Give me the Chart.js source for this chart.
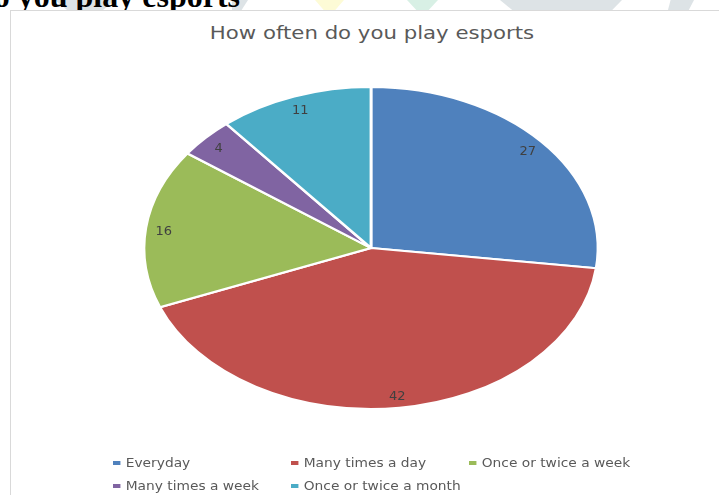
<!DOCTYPE html>
<html>
<head>
<meta charset="utf-8">
<script src="https://cdn.jsdelivr.net/npm/chart.js@4.4.1/dist/chart.umd.min.js"></script>
<style>
  html, body { margin: 0; padding: 0; background: #fff; }
  body { width: 719px; height: 495px; position: relative; overflow: hidden; font-family: "DejaVu Sans", sans-serif; }
  .mark { position: absolute; top: 0; height: 10px; }
  #heading {
    position: absolute; right: 479px; top: -20px; white-space: nowrap;
    font-family: "Liberation Serif", serif; font-weight: bold; font-size: 32px; line-height: 32px; color: #000;
  }
  #box {
    position: absolute; left: 10px; top: 10px; width: 740px; height: 520px;
    background: #fff; border: 1px solid #d9d9d9; box-sizing: border-box;
  }
  #title {
    position: absolute; left: 0; width: 744px; top: 22px; text-align: center;
    font-size: 17px; line-height: 22px; color: #595959;
    transform: scaleX(1.25); transform-origin: 372px 0;
  }
  #chart { position: absolute; left: 0; top: 0; }
  .legend-item {
    position: absolute; font-size: 13px; line-height: 16px; color: #595959; white-space: nowrap;
    transform: scaleX(1.06); transform-origin: 0 0;
  }
  .legend-item i { display: inline-block; width: 7px; height: 4px; margin-right: 5px; vertical-align: middle; position: relative; top: -1px; }
</style>
</head>
<body>
<div class="mark" style="left:55px;width:60px;background:#dde3e6;clip-path:polygon(0 0,100% 0,80% 100%,20% 100%)"></div>
<div class="mark" style="left:232px;width:16px;background:#dde3e6;clip-path:polygon(0 0,100% 0,60% 100%,0 100%)"></div>
<div class="mark" style="left:315px;width:29px;background:#fdfbd6;clip-path:polygon(0 0,100% 0,70% 100%,30% 100%)"></div>
<div class="mark" style="left:407px;width:31px;background:#d8f0e5;clip-path:polygon(0 0,100% 0,70% 100%,30% 100%)"></div>
<div class="mark" style="left:500px;width:122px;background:#dde3e6;clip-path:polygon(0 0,100% 0,92% 100%,10% 100%)"></div>
<div class="mark" style="left:668px;width:26px;background:#dde3e6;clip-path:polygon(10% 0,100% 0,80% 100%,0 100%)"></div>
<div id="heading">do you play esports</div>
<div id="box"></div>
<div id="title">How often do you play esports</div>
<canvas id="chart" width="719" height="495"></canvas>
<div id="legend"></div>
<script>
const categories = ['Everyday', 'Many times a day', 'Once or twice a week', 'Many times a week', 'Once or twice a month'];
const responses = [27, 42, 16, 4, 11];
const sliceColors = ['#4f81bd', '#c0504d', '#9bbb59', '#8064a2', '#4bacc6'];

// the pie is drawn as a circle and stretched sideways into an ellipse
const stretchX = 1.41;
const labelRadius = 0.92;

const ellipsePlugin = {
  id: 'ellipsePie',
  beforeDatasetsDraw(chart) {
    const arc = chart.getDatasetMeta(0).data[0];
    const ctx = chart.ctx;
    ctx.save();
    ctx.translate(arc.x, arc.y);
    ctx.scale(stretchX, 1);
    ctx.translate(-arc.x, -arc.y);
  },
  afterDatasetsDraw(chart) {
    const ctx = chart.ctx;
    ctx.restore();
    // value labels near the outer edge of each slice
    const values = chart.data.datasets[0].data;
    ctx.save();
    ctx.font = '13px "DejaVu Sans", sans-serif';
    ctx.fillStyle = '#404040';
    ctx.textAlign = 'center';
    ctx.textBaseline = 'middle';
    chart.getDatasetMeta(0).data.forEach((arc, i) => {
      const p = arc.getProps(['x', 'y', 'startAngle', 'endAngle', 'outerRadius'], true);
      const mid = (p.startAngle + p.endAngle) / 2;
      const r = p.outerRadius * labelRadius;
      ctx.fillText(String(values[i]), p.x + Math.cos(mid) * r * stretchX, p.y + Math.sin(mid) * r + 2);
    });
    ctx.restore();
  }
};

new Chart(document.getElementById('chart'), {
  type: 'pie',
  data: {
    labels: categories,
    datasets: [{
      data: responses,
      backgroundColor: sliceColors,
      borderColor: '#ffffff',
      borderWidth: 2
    }]
  },
  options: {
    responsive: false,
    animation: false,
    events: [],
    layout: { padding: { left: 209, right: 186, top: 86, bottom: 85 } },
    plugins: {
      legend: { display: false },
      title: { display: false },
      tooltip: { enabled: false }
    }
  },
  plugins: [ellipsePlugin]
});

// legend laid out in three columns
const legendCols = [113, 291, 469];
const legendRows = [455, 478];
const legend = document.getElementById('legend');
categories.forEach((name, i) => {
  const item = document.createElement('div');
  item.className = 'legend-item';
  item.style.left = legendCols[i % 3] + 'px';
  item.style.top = legendRows[Math.floor(i / 3)] + 'px';
  item.innerHTML = '<i style="background:' + sliceColors[i] + '"></i>' + name;
  legend.appendChild(item);
});
</script>
</body>
</html>
